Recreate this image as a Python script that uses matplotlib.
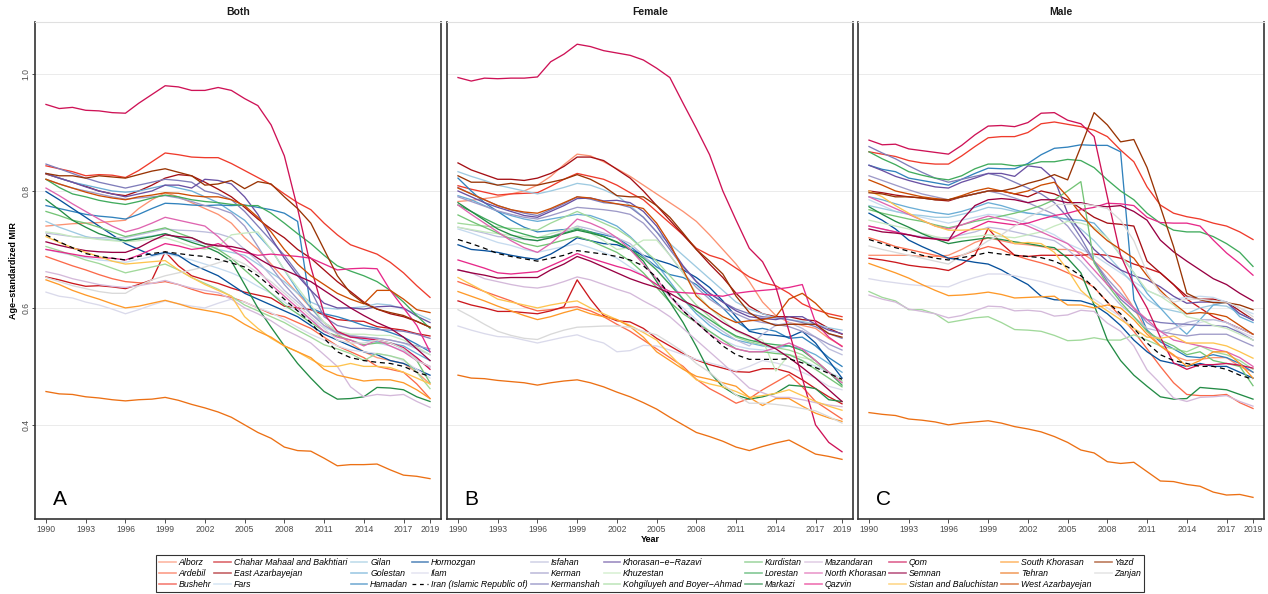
import matplotlib
matplotlib.use("Agg")
import matplotlib.pyplot as plt
from matplotlib.lines import Line2D
from matplotlib.font_manager import FontProperties

plt.rcParams["font.family"] = ["Liberation Sans", "DejaVu Sans"]

years = list(range(1990, 2020))
panels = ["Both", "Female", "Male"]
panel_letters = ["A", "B", "C"]
xticks = [1990, 1993, 1996, 1999, 2002, 2005, 2008, 2011, 2014, 2017, 2019]
yticks = [0.4, 0.6, 0.8, 1.0]
ytick_labels = ["0.4", "0.6", "0.8", "1.0"]

alborz = {
    "Both": [0.74, 0.742, 0.744, 0.745, 0.746, 0.748, 0.75, 0.77, 0.785, 0.797, 0.79, 0.78, 0.77, 0.76, 0.745, 0.72, 0.70, 0.675, 0.65, 0.625, 0.60, 0.575, 0.555, 0.54, 0.525, 0.515, 0.51, 0.505, 0.49, 0.47],
    "Female": [0.782, 0.784, 0.787, 0.79, 0.795, 0.80, 0.81, 0.825, 0.845, 0.863, 0.86, 0.85, 0.838, 0.825, 0.81, 0.795, 0.78, 0.765, 0.748, 0.725, 0.70, 0.675, 0.645, 0.61, 0.587, 0.575, 0.57, 0.565, 0.548, 0.535],
    "Male": [0.69, 0.69, 0.69, 0.69, 0.688, 0.688, 0.69, 0.70, 0.712, 0.72, 0.715, 0.71, 0.708, 0.705, 0.70, 0.70, 0.695, 0.68, 0.66, 0.635, 0.60, 0.56, 0.535, 0.518, 0.51, 0.512, 0.515, 0.515, 0.50, 0.49],
}
ardebil = {
    "Both": [0.688, 0.68, 0.672, 0.665, 0.657, 0.65, 0.645, 0.643, 0.642, 0.645, 0.64, 0.632, 0.625, 0.622, 0.618, 0.61, 0.60, 0.59, 0.585, 0.575, 0.565, 0.55, 0.535, 0.525, 0.515, 0.50, 0.495, 0.49, 0.47, 0.445],
    "Female": [0.645, 0.637, 0.628, 0.62, 0.612, 0.602, 0.595, 0.597, 0.60, 0.602, 0.595, 0.585, 0.572, 0.56, 0.545, 0.53, 0.515, 0.50, 0.478, 0.462, 0.45, 0.437, 0.445, 0.46, 0.473, 0.486, 0.465, 0.44, 0.425, 0.41],
    "Male": [0.72, 0.713, 0.705, 0.70, 0.695, 0.69, 0.685, 0.69, 0.698, 0.705, 0.70, 0.69, 0.683, 0.677, 0.67, 0.66, 0.65, 0.635, 0.61, 0.585, 0.56, 0.53, 0.50, 0.472, 0.452, 0.45, 0.45, 0.452, 0.438, 0.428],
}
bushehr = {
    "Both": [0.843, 0.838, 0.833, 0.826, 0.828, 0.827, 0.823, 0.835, 0.85, 0.865, 0.862, 0.858, 0.857, 0.857, 0.847, 0.835, 0.823, 0.811, 0.795, 0.78, 0.768, 0.745, 0.725, 0.708, 0.70, 0.692, 0.678, 0.66, 0.638, 0.618],
    "Female": [0.809, 0.803, 0.798, 0.793, 0.795, 0.796, 0.797, 0.808, 0.82, 0.83, 0.825, 0.82, 0.81, 0.797, 0.785, 0.765, 0.745, 0.725, 0.702, 0.69, 0.683, 0.668, 0.653, 0.643, 0.638, 0.625, 0.607, 0.597, 0.59, 0.585],
    "Male": [0.867, 0.863, 0.859, 0.852, 0.848, 0.846, 0.846, 0.86, 0.876, 0.891, 0.893, 0.893, 0.90, 0.915, 0.918, 0.914, 0.91, 0.904, 0.893, 0.87, 0.85, 0.807, 0.776, 0.762, 0.756, 0.752, 0.745, 0.74, 0.73, 0.717],
}
chahar = {
    "Both": [0.653, 0.648, 0.642, 0.637, 0.638, 0.636, 0.633, 0.64, 0.648, 0.696, 0.672, 0.655, 0.648, 0.642, 0.634, 0.627, 0.622, 0.617, 0.603, 0.60, 0.597, 0.588, 0.58, 0.578, 0.577, 0.568, 0.565, 0.562, 0.556, 0.552],
    "Female": [0.612, 0.605, 0.60, 0.594, 0.594, 0.592, 0.59, 0.595, 0.602, 0.648, 0.615, 0.587, 0.578, 0.576, 0.565, 0.548, 0.535, 0.522, 0.511, 0.503, 0.497, 0.491, 0.49, 0.496, 0.496, 0.49, 0.477, 0.462, 0.448, 0.436],
    "Male": [0.685, 0.682, 0.678, 0.673, 0.67, 0.668, 0.664, 0.675, 0.69, 0.736, 0.71, 0.69, 0.688, 0.69, 0.69, 0.69, 0.69, 0.692, 0.69, 0.685, 0.675, 0.668, 0.66, 0.64, 0.615, 0.60, 0.585, 0.575, 0.565, 0.555],
}
east_azarbayejan = {
    "Both": [0.829, 0.822, 0.815, 0.808, 0.80, 0.795, 0.792, 0.80, 0.81, 0.822, 0.828, 0.826, 0.815, 0.803, 0.79, 0.772, 0.752, 0.735, 0.72, 0.70, 0.685, 0.665, 0.645, 0.628, 0.61, 0.598, 0.59, 0.585, 0.577, 0.567],
    "Female": [0.848, 0.836, 0.828, 0.82, 0.82, 0.818, 0.822, 0.83, 0.842, 0.858, 0.858, 0.852, 0.837, 0.822, 0.80, 0.775, 0.75, 0.725, 0.70, 0.675, 0.652, 0.625, 0.603, 0.59, 0.585, 0.585, 0.58, 0.578, 0.565, 0.555],
    "Male": [0.80, 0.797, 0.793, 0.79, 0.788, 0.785, 0.783, 0.79, 0.795, 0.80, 0.80, 0.795, 0.79, 0.80, 0.795, 0.785, 0.77, 0.755, 0.745, 0.743, 0.74, 0.68, 0.66, 0.64, 0.62, 0.615, 0.615, 0.61, 0.595, 0.58],
}
fars = {
    "Both": [0.70, 0.695, 0.69, 0.686, 0.682, 0.68, 0.678, 0.683, 0.688, 0.693, 0.688, 0.682, 0.675, 0.668, 0.66, 0.65, 0.637, 0.625, 0.61, 0.595, 0.58, 0.567, 0.556, 0.55, 0.545, 0.54, 0.535, 0.527, 0.513, 0.498],
    "Female": [0.735, 0.728, 0.72, 0.712, 0.707, 0.70, 0.695, 0.70, 0.705, 0.71, 0.703, 0.695, 0.685, 0.67, 0.655, 0.64, 0.62, 0.60, 0.58, 0.56, 0.545, 0.535, 0.53, 0.528, 0.525, 0.52, 0.51, 0.50, 0.49, 0.48],
    "Male": [0.785, 0.775, 0.765, 0.76, 0.755, 0.75, 0.745, 0.75, 0.755, 0.76, 0.758, 0.752, 0.745, 0.735, 0.725, 0.71, 0.70, 0.69, 0.675, 0.66, 0.645, 0.63, 0.62, 0.615, 0.618, 0.62, 0.618, 0.61, 0.60, 0.59],
}
gilan = {
    "Both": [0.748, 0.738, 0.73, 0.722, 0.718, 0.716, 0.715, 0.72, 0.723, 0.727, 0.72, 0.715, 0.71, 0.70, 0.695, 0.69, 0.675, 0.66, 0.645, 0.625, 0.61, 0.60, 0.598, 0.60, 0.602, 0.607, 0.605, 0.598, 0.59, 0.58],
    "Female": [0.833, 0.825, 0.818, 0.81, 0.805, 0.80, 0.795, 0.80, 0.806, 0.813, 0.81, 0.802, 0.792, 0.775, 0.755, 0.73, 0.71, 0.69, 0.67, 0.65, 0.63, 0.61, 0.598, 0.59, 0.583, 0.58, 0.577, 0.572, 0.566, 0.562],
    "Male": [0.775, 0.77, 0.765, 0.76, 0.758, 0.755, 0.755, 0.76, 0.765, 0.772, 0.77, 0.765, 0.762, 0.76, 0.757, 0.75, 0.735, 0.715, 0.69, 0.665, 0.64, 0.615, 0.60, 0.595, 0.59, 0.60, 0.605, 0.603, 0.59, 0.58],
}
golestan = {
    "Both": [0.83, 0.822, 0.815, 0.81, 0.805, 0.80, 0.798, 0.80, 0.805, 0.81, 0.805, 0.80, 0.79, 0.78, 0.765, 0.75, 0.725, 0.70, 0.665, 0.63, 0.60, 0.575, 0.56, 0.552, 0.545, 0.542, 0.54, 0.535, 0.522, 0.51],
    "Female": [0.792, 0.785, 0.775, 0.765, 0.758, 0.752, 0.748, 0.752, 0.756, 0.76, 0.758, 0.75, 0.74, 0.722, 0.70, 0.675, 0.645, 0.615, 0.59, 0.57, 0.555, 0.545, 0.54, 0.535, 0.532, 0.535, 0.53, 0.52, 0.505, 0.49],
    "Male": [0.79, 0.785, 0.778, 0.772, 0.767, 0.763, 0.76, 0.765, 0.772, 0.78, 0.775, 0.768, 0.762, 0.76, 0.755, 0.752, 0.75, 0.745, 0.72, 0.69, 0.66, 0.625, 0.60, 0.575, 0.555, 0.58, 0.605, 0.61, 0.585, 0.575],
}
hamadan = {
    "Both": [0.775, 0.77, 0.765, 0.76, 0.757, 0.755, 0.752, 0.76, 0.77, 0.779, 0.778, 0.776, 0.775, 0.776, 0.775, 0.776, 0.772, 0.768, 0.762, 0.748, 0.60, 0.59, 0.585, 0.578, 0.57, 0.565, 0.558, 0.55, 0.538, 0.525],
    "Female": [0.822, 0.80, 0.78, 0.765, 0.75, 0.738, 0.73, 0.732, 0.734, 0.737, 0.73, 0.725, 0.72, 0.705, 0.688, 0.67, 0.657, 0.652, 0.64, 0.62, 0.60, 0.577, 0.562, 0.565, 0.56, 0.548, 0.55, 0.535, 0.515, 0.50],
    "Male": [0.844, 0.837, 0.833, 0.822, 0.818, 0.814, 0.81, 0.82, 0.83, 0.839, 0.838, 0.838, 0.847, 0.862, 0.873, 0.875, 0.879, 0.878, 0.878, 0.867, 0.614, 0.562, 0.542, 0.53, 0.517, 0.515, 0.52, 0.515, 0.505, 0.49],
}
hormozgan = {
    "Both": [0.799, 0.785, 0.77, 0.755, 0.74, 0.725, 0.71, 0.70, 0.69, 0.695, 0.69, 0.675, 0.665, 0.655, 0.64, 0.625, 0.615, 0.605, 0.595, 0.585, 0.57, 0.555, 0.545, 0.535, 0.525, 0.52, 0.51, 0.505, 0.495, 0.485],
    "Female": [0.708, 0.70, 0.698, 0.695, 0.69, 0.686, 0.683, 0.692, 0.705, 0.72, 0.715, 0.71, 0.708, 0.70, 0.69, 0.682, 0.675, 0.665, 0.652, 0.635, 0.612, 0.585, 0.56, 0.555, 0.553, 0.55, 0.56, 0.54, 0.51, 0.48],
    "Male": [0.762, 0.75, 0.735, 0.716, 0.705, 0.695, 0.685, 0.682, 0.678, 0.675, 0.665, 0.652, 0.64, 0.62, 0.614, 0.613, 0.612, 0.605, 0.59, 0.57, 0.545, 0.525, 0.51, 0.505, 0.50, 0.505, 0.50, 0.50, 0.49, 0.48],
}
ilam = {
    "Both": [0.627, 0.62, 0.617, 0.61, 0.605, 0.598, 0.59, 0.597, 0.605, 0.612, 0.607, 0.603, 0.60, 0.608, 0.615, 0.61, 0.60, 0.592, 0.58, 0.567, 0.555, 0.545, 0.535, 0.528, 0.525, 0.522, 0.518, 0.51, 0.495, 0.48],
    "Female": [0.569, 0.562, 0.556, 0.551, 0.55, 0.545, 0.54, 0.545, 0.55, 0.554, 0.546, 0.54, 0.525, 0.527, 0.536, 0.535, 0.528, 0.52, 0.512, 0.506, 0.50, 0.492, 0.50, 0.51, 0.506, 0.50, 0.49, 0.48, 0.466, 0.46],
    "Male": [0.65, 0.646, 0.643, 0.64, 0.638, 0.637, 0.636, 0.645, 0.652, 0.658, 0.658, 0.655, 0.65, 0.645, 0.638, 0.632, 0.625, 0.615, 0.60, 0.585, 0.565, 0.55, 0.55, 0.565, 0.57, 0.575, 0.58, 0.575, 0.56, 0.55],
}
iran = {
    "Both": [0.725, 0.713, 0.703, 0.693, 0.688, 0.685, 0.682, 0.688, 0.693, 0.696, 0.693, 0.69, 0.688, 0.683, 0.677, 0.67, 0.655, 0.636, 0.615, 0.595, 0.575, 0.548, 0.525, 0.515, 0.51, 0.507, 0.505, 0.50, 0.49, 0.483],
    "Female": [0.717, 0.71, 0.702, 0.693, 0.688, 0.684, 0.68, 0.685, 0.69, 0.698, 0.695, 0.692, 0.688, 0.682, 0.672, 0.652, 0.622, 0.595, 0.575, 0.555, 0.535, 0.52, 0.512, 0.512, 0.512, 0.513, 0.506, 0.498, 0.488, 0.478],
    "Male": [0.717, 0.71, 0.703, 0.697, 0.69, 0.685, 0.682, 0.686, 0.69, 0.695, 0.692, 0.69, 0.688, 0.686, 0.68, 0.67, 0.655, 0.635, 0.61, 0.59, 0.565, 0.54, 0.52, 0.51, 0.505, 0.50, 0.50, 0.495, 0.485, 0.478],
}
isfahan = {
    "Both": [0.728, 0.725, 0.722, 0.72, 0.72, 0.72, 0.72, 0.725, 0.73, 0.735, 0.733, 0.732, 0.73, 0.727, 0.72, 0.70, 0.68, 0.655, 0.63, 0.61, 0.59, 0.575, 0.56, 0.553, 0.55, 0.548, 0.545, 0.54, 0.53, 0.52],
    "Female": [0.738, 0.733, 0.728, 0.722, 0.72, 0.717, 0.715, 0.722, 0.73, 0.74, 0.735, 0.728, 0.72, 0.71, 0.69, 0.665, 0.64, 0.615, 0.595, 0.575, 0.56, 0.545, 0.535, 0.555, 0.57, 0.575, 0.565, 0.55, 0.53, 0.52],
    "Male": [0.74, 0.735, 0.73, 0.725, 0.722, 0.72, 0.72, 0.725, 0.73, 0.738, 0.735, 0.73, 0.725, 0.72, 0.715, 0.70, 0.68, 0.655, 0.63, 0.605, 0.585, 0.565, 0.56, 0.565, 0.575, 0.58, 0.58, 0.575, 0.565, 0.555],
}
kerman = {
    "Both": [0.82, 0.812, 0.805, 0.80, 0.795, 0.79, 0.786, 0.788, 0.79, 0.792, 0.788, 0.782, 0.775, 0.77, 0.762, 0.74, 0.705, 0.67, 0.64, 0.615, 0.59, 0.57, 0.557, 0.552, 0.55, 0.548, 0.545, 0.54, 0.535, 0.53],
    "Female": [0.79, 0.782, 0.774, 0.766, 0.76, 0.755, 0.752, 0.758, 0.765, 0.772, 0.77, 0.768, 0.765, 0.76, 0.745, 0.72, 0.69, 0.66, 0.635, 0.615, 0.60, 0.59, 0.58, 0.575, 0.572, 0.568, 0.56, 0.55, 0.538, 0.528],
    "Male": [0.826, 0.818, 0.81, 0.802, 0.795, 0.79, 0.785, 0.79, 0.795, 0.80, 0.795, 0.788, 0.78, 0.77, 0.76, 0.74, 0.71, 0.68, 0.65, 0.625, 0.60, 0.575, 0.56, 0.555, 0.552, 0.555, 0.555, 0.555, 0.545, 0.535],
}
kermanshah = {
    "Both": [0.846, 0.838, 0.83, 0.822, 0.815, 0.81, 0.805, 0.81, 0.815, 0.82, 0.818, 0.815, 0.80, 0.795, 0.785, 0.765, 0.74, 0.715, 0.69, 0.66, 0.63, 0.585, 0.57, 0.565, 0.565, 0.563, 0.562, 0.56, 0.555, 0.548],
    "Female": [0.806, 0.795, 0.785, 0.775, 0.768, 0.762, 0.758, 0.768, 0.778, 0.79, 0.786, 0.78, 0.778, 0.772, 0.755, 0.73, 0.70, 0.67, 0.645, 0.625, 0.61, 0.598, 0.59, 0.585, 0.583, 0.58, 0.575, 0.568, 0.556, 0.548],
    "Male": [0.876, 0.865, 0.855, 0.843, 0.832, 0.822, 0.815, 0.82, 0.825, 0.83, 0.825, 0.815, 0.805, 0.795, 0.78, 0.755, 0.72, 0.68, 0.645, 0.615, 0.595, 0.58, 0.575, 0.573, 0.572, 0.57, 0.57, 0.568, 0.558, 0.545],
}
khorasan_razavi = {
    "Both": [0.83, 0.822, 0.815, 0.807, 0.80, 0.795, 0.79, 0.795, 0.80, 0.81, 0.81, 0.805, 0.82, 0.818, 0.812, 0.79, 0.76, 0.72, 0.685, 0.655, 0.63, 0.608, 0.60, 0.60, 0.598, 0.602, 0.603, 0.60, 0.586, 0.575],
    "Female": [0.80, 0.79, 0.78, 0.772, 0.765, 0.758, 0.755, 0.765, 0.775, 0.787, 0.788, 0.783, 0.784, 0.78, 0.765, 0.74, 0.705, 0.672, 0.645, 0.625, 0.61, 0.595, 0.585, 0.582, 0.58, 0.585, 0.585, 0.572, 0.562, 0.556],
    "Male": [0.844, 0.835, 0.825, 0.818, 0.812, 0.807, 0.805, 0.815, 0.822, 0.83, 0.83, 0.825, 0.843, 0.84, 0.82, 0.762, 0.73, 0.70, 0.68, 0.665, 0.655, 0.648, 0.636, 0.62, 0.608, 0.61, 0.61, 0.61, 0.59, 0.579],
}
khuzestan = {
    "Both": [0.73, 0.727, 0.722, 0.72, 0.717, 0.715, 0.713, 0.715, 0.718, 0.72, 0.713, 0.705, 0.70, 0.705, 0.725, 0.728, 0.73, 0.70, 0.665, 0.635, 0.605, 0.575, 0.56, 0.555, 0.555, 0.553, 0.553, 0.545, 0.533, 0.52],
    "Female": [0.738, 0.734, 0.73, 0.727, 0.724, 0.722, 0.72, 0.727, 0.733, 0.738, 0.728, 0.715, 0.70, 0.703, 0.716, 0.716, 0.69, 0.66, 0.625, 0.60, 0.58, 0.56, 0.55, 0.545, 0.492, 0.52, 0.515, 0.51, 0.49, 0.472],
    "Male": [0.75, 0.745, 0.74, 0.735, 0.728, 0.722, 0.718, 0.72, 0.722, 0.725, 0.722, 0.72, 0.725, 0.73, 0.74, 0.748, 0.745, 0.738, 0.72, 0.69, 0.66, 0.63, 0.62, 0.605, 0.585, 0.58, 0.57, 0.565, 0.555, 0.545],
}
kohgiluyeh = {
    "Both": [0.705, 0.698, 0.69, 0.682, 0.676, 0.668, 0.66, 0.665, 0.67, 0.675, 0.665, 0.652, 0.642, 0.632, 0.62, 0.605, 0.595, 0.585, 0.575, 0.562, 0.55, 0.537, 0.53, 0.522, 0.51, 0.522, 0.518, 0.512, 0.49, 0.462],
    "Female": [0.745, 0.742, 0.74, 0.738, 0.736, 0.735, 0.733, 0.745, 0.755, 0.765, 0.755, 0.745, 0.735, 0.72, 0.70, 0.68, 0.655, 0.63, 0.605, 0.585, 0.565, 0.55, 0.542, 0.537, 0.532, 0.528, 0.52, 0.505, 0.49, 0.475],
    "Male": [0.628, 0.618, 0.612, 0.597, 0.597, 0.59, 0.575, 0.579, 0.583, 0.585, 0.575, 0.563, 0.562, 0.56, 0.553, 0.544, 0.545, 0.549, 0.545, 0.545, 0.554, 0.545, 0.535, 0.53, 0.525, 0.535, 0.525, 0.52, 0.51, 0.495],
}
kurdistan = {
    "Both": [0.765, 0.758, 0.75, 0.745, 0.738, 0.73, 0.722, 0.727, 0.732, 0.737, 0.728, 0.72, 0.71, 0.70, 0.685, 0.665, 0.645, 0.625, 0.605, 0.59, 0.575, 0.56, 0.552, 0.545, 0.537, 0.54, 0.54, 0.53, 0.51, 0.472],
    "Female": [0.759, 0.748, 0.738, 0.728, 0.718, 0.71, 0.705, 0.71, 0.716, 0.722, 0.715, 0.705, 0.695, 0.68, 0.66, 0.635, 0.61, 0.59, 0.575, 0.56, 0.545, 0.53, 0.525, 0.525, 0.522, 0.52, 0.51, 0.495, 0.48, 0.465],
    "Male": [0.768, 0.762, 0.757, 0.752, 0.748, 0.742, 0.737, 0.742, 0.748, 0.752, 0.757, 0.762, 0.768, 0.775, 0.785, 0.80, 0.816, 0.677, 0.64, 0.61, 0.585, 0.56, 0.545, 0.535, 0.52, 0.525, 0.51, 0.505, 0.50, 0.467],
}
lorestan = {
    "Both": [0.82, 0.806, 0.795, 0.79, 0.784, 0.78, 0.777, 0.782, 0.788, 0.793, 0.79, 0.785, 0.782, 0.78, 0.777, 0.775, 0.775, 0.762, 0.745, 0.727, 0.71, 0.69, 0.672, 0.663, 0.655, 0.645, 0.63, 0.61, 0.587, 0.565],
    "Female": [0.776, 0.765, 0.753, 0.742, 0.733, 0.726, 0.72, 0.722, 0.728, 0.735, 0.73, 0.722, 0.712, 0.70, 0.685, 0.665, 0.64, 0.615, 0.595, 0.58, 0.565, 0.552, 0.545, 0.54, 0.537, 0.535, 0.527, 0.51, 0.49, 0.468],
    "Male": [0.867, 0.855, 0.845, 0.833, 0.827, 0.822, 0.819, 0.826, 0.838, 0.846, 0.846, 0.843, 0.845, 0.85, 0.85, 0.854, 0.852, 0.84, 0.819, 0.80, 0.785, 0.762, 0.745, 0.733, 0.73, 0.73, 0.722, 0.71, 0.695, 0.671],
}
markazi = {
    "Both": [0.785, 0.768, 0.75, 0.738, 0.727, 0.72, 0.715, 0.718, 0.722, 0.727, 0.72, 0.712, 0.705, 0.695, 0.68, 0.64, 0.60, 0.567, 0.535, 0.505, 0.48, 0.457, 0.444, 0.445, 0.448, 0.464, 0.463, 0.46, 0.448, 0.44],
    "Female": [0.78, 0.765, 0.75, 0.735, 0.725, 0.718, 0.715, 0.72, 0.727, 0.733, 0.728, 0.722, 0.713, 0.70, 0.68, 0.645, 0.61, 0.575, 0.534, 0.49, 0.465, 0.451, 0.444, 0.448, 0.454, 0.468, 0.466, 0.462, 0.443, 0.44],
    "Male": [0.773, 0.76, 0.748, 0.738, 0.727, 0.718, 0.71, 0.714, 0.717, 0.72, 0.717, 0.713, 0.71, 0.706, 0.703, 0.685, 0.66, 0.605, 0.545, 0.51, 0.485, 0.466, 0.448, 0.444, 0.445, 0.464, 0.462, 0.46, 0.452, 0.444],
}
mazandaran = {
    "Both": [0.662, 0.657, 0.65, 0.645, 0.64, 0.637, 0.635, 0.638, 0.642, 0.647, 0.64, 0.634, 0.63, 0.626, 0.615, 0.60, 0.59, 0.578, 0.563, 0.552, 0.54, 0.52, 0.50, 0.465, 0.448, 0.452, 0.45, 0.452, 0.44, 0.43],
    "Female": [0.665, 0.66, 0.65, 0.645, 0.64, 0.636, 0.634, 0.638, 0.645, 0.653, 0.648, 0.64, 0.632, 0.625, 0.612, 0.60, 0.585, 0.565, 0.545, 0.525, 0.505, 0.484, 0.463, 0.455, 0.447, 0.447, 0.443, 0.438, 0.434, 0.431],
    "Male": [0.622, 0.615, 0.61, 0.598, 0.594, 0.59, 0.583, 0.587, 0.595, 0.603, 0.602, 0.595, 0.596, 0.594, 0.586, 0.588, 0.596, 0.594, 0.574, 0.56, 0.535, 0.494, 0.471, 0.446, 0.44, 0.447, 0.448, 0.45, 0.44, 0.432],
}
north_khorasan = {
    "Both": [0.805, 0.792, 0.778, 0.765, 0.752, 0.74, 0.73, 0.736, 0.745, 0.755, 0.75, 0.745, 0.74, 0.722, 0.70, 0.685, 0.665, 0.64, 0.62, 0.60, 0.58, 0.56, 0.55, 0.545, 0.535, 0.545, 0.535, 0.525, 0.51, 0.50],
    "Female": [0.776, 0.76, 0.745, 0.73, 0.715, 0.703, 0.695, 0.71, 0.73, 0.752, 0.745, 0.735, 0.72, 0.70, 0.675, 0.65, 0.62, 0.595, 0.575, 0.555, 0.54, 0.53, 0.525, 0.525, 0.532, 0.54, 0.53, 0.51, 0.49, 0.472],
    "Male": [0.79, 0.78, 0.77, 0.76, 0.75, 0.74, 0.735, 0.742, 0.75, 0.757, 0.752, 0.748, 0.74, 0.73, 0.72, 0.71, 0.69, 0.665, 0.64, 0.62, 0.60, 0.58, 0.56, 0.545, 0.54, 0.535, 0.53, 0.525, 0.515, 0.50],
}
qazvin = {
    "Both": [0.70, 0.696, 0.692, 0.688, 0.686, 0.685, 0.682, 0.69, 0.70, 0.71, 0.706, 0.70, 0.703, 0.71, 0.70, 0.695, 0.69, 0.692, 0.69, 0.688, 0.685, 0.675, 0.665, 0.667, 0.668, 0.667, 0.63, 0.60, 0.57, 0.525],
    "Female": [0.682, 0.675, 0.668, 0.66, 0.658, 0.66, 0.662, 0.672, 0.682, 0.693, 0.685, 0.678, 0.671, 0.665, 0.655, 0.64, 0.628, 0.626, 0.625, 0.622, 0.62, 0.625, 0.628, 0.63, 0.632, 0.635, 0.64, 0.575, 0.55, 0.534],
    "Male": [0.74, 0.735, 0.73, 0.725, 0.72, 0.718, 0.716, 0.728, 0.738, 0.748, 0.745, 0.742, 0.745, 0.752, 0.758, 0.762, 0.768, 0.772, 0.779, 0.778, 0.775, 0.755, 0.746, 0.745, 0.745, 0.74, 0.716, 0.694, 0.676, 0.656],
}
qom = {
    "Both": [0.948, 0.941, 0.943, 0.938, 0.937, 0.934, 0.933, 0.95, 0.965, 0.98, 0.978, 0.972, 0.972, 0.977, 0.972, 0.958, 0.946, 0.913, 0.86, 0.77, 0.67, 0.59, 0.56, 0.55, 0.548, 0.545, 0.54, 0.532, 0.515, 0.495],
    "Female": [0.994, 0.988, 0.993, 0.992, 0.993, 0.993, 0.995, 1.021, 1.034, 1.051, 1.047, 1.04, 1.036, 1.032, 1.024, 1.01, 0.994, 0.95, 0.907, 0.862, 0.80, 0.75, 0.702, 0.679, 0.636, 0.56, 0.48, 0.40, 0.37, 0.354],
    "Male": [0.887, 0.879, 0.88, 0.872, 0.869, 0.866, 0.863, 0.878, 0.896, 0.911, 0.912, 0.91, 0.917, 0.933, 0.934, 0.921, 0.915, 0.893, 0.79, 0.69, 0.64, 0.60, 0.55, 0.506, 0.495, 0.503, 0.503, 0.505, 0.502, 0.497],
}
semnan = {
    "Both": [0.713, 0.707, 0.702, 0.698, 0.696, 0.695, 0.695, 0.703, 0.715, 0.725, 0.722, 0.72, 0.71, 0.706, 0.705, 0.70, 0.685, 0.672, 0.665, 0.655, 0.645, 0.63, 0.615, 0.60, 0.587, 0.575, 0.565, 0.55, 0.53, 0.51],
    "Female": [0.665, 0.66, 0.656, 0.651, 0.652, 0.652, 0.652, 0.665, 0.675, 0.688, 0.68, 0.67, 0.66, 0.65, 0.642, 0.635, 0.625, 0.612, 0.602, 0.59, 0.575, 0.562, 0.552, 0.54, 0.53, 0.515, 0.498, 0.48, 0.46, 0.44],
    "Male": [0.735, 0.73, 0.728, 0.725, 0.72, 0.718, 0.715, 0.75, 0.775, 0.785, 0.787, 0.785, 0.78, 0.785, 0.785, 0.78, 0.78, 0.775, 0.773, 0.775, 0.765, 0.75, 0.716, 0.696, 0.68, 0.665, 0.65, 0.64, 0.625, 0.612],
}
sistan = {
    "Both": [0.722, 0.712, 0.703, 0.695, 0.688, 0.68, 0.675, 0.677, 0.679, 0.681, 0.665, 0.652, 0.64, 0.63, 0.62, 0.585, 0.565, 0.548, 0.535, 0.525, 0.512, 0.50, 0.50, 0.505, 0.50, 0.50, 0.498, 0.49, 0.48, 0.47],
    "Female": [0.652, 0.64, 0.628, 0.615, 0.61, 0.605, 0.60, 0.605, 0.609, 0.612, 0.60, 0.59, 0.58, 0.57, 0.558, 0.545, 0.52, 0.497, 0.477, 0.47, 0.465, 0.457, 0.447, 0.45, 0.454, 0.46, 0.45, 0.44, 0.432, 0.425],
    "Male": [0.80, 0.79, 0.775, 0.762, 0.75, 0.74, 0.733, 0.733, 0.734, 0.735, 0.725, 0.71, 0.712, 0.71, 0.695, 0.665, 0.63, 0.61, 0.595, 0.58, 0.565, 0.55, 0.548, 0.552, 0.54, 0.54, 0.54, 0.535, 0.525, 0.514],
}
south_khorasan = {
    "Both": [0.648, 0.64, 0.63, 0.622, 0.615, 0.607, 0.60, 0.603, 0.608, 0.613, 0.607, 0.60, 0.596, 0.592, 0.586, 0.572, 0.56, 0.55, 0.535, 0.525, 0.515, 0.495, 0.485, 0.48, 0.475, 0.477, 0.477, 0.472, 0.46, 0.445],
    "Female": [0.628, 0.62, 0.612, 0.603, 0.595, 0.587, 0.58, 0.585, 0.592, 0.598, 0.59, 0.585, 0.58, 0.568, 0.55, 0.525, 0.51, 0.495, 0.483, 0.478, 0.472, 0.466, 0.447, 0.433, 0.445, 0.445, 0.432, 0.42, 0.412, 0.406],
    "Male": [0.676, 0.668, 0.66, 0.651, 0.64, 0.63, 0.621, 0.622, 0.624, 0.627, 0.623, 0.617, 0.618, 0.619, 0.62, 0.605, 0.605, 0.60, 0.605, 0.60, 0.58, 0.555, 0.535, 0.52, 0.50, 0.51, 0.525, 0.525, 0.505, 0.48],
}
tehran = {
    "Both": [0.457, 0.453, 0.452, 0.448, 0.446, 0.443, 0.441, 0.443, 0.444, 0.447, 0.442, 0.435, 0.429, 0.422, 0.413, 0.40, 0.387, 0.377, 0.362, 0.356, 0.355, 0.343, 0.33, 0.332, 0.332, 0.333, 0.323, 0.314, 0.312, 0.308],
    "Female": [0.485, 0.48, 0.479, 0.476, 0.474, 0.472, 0.468, 0.472, 0.475, 0.477, 0.472, 0.465, 0.456, 0.448, 0.438, 0.427, 0.413, 0.40, 0.387, 0.38, 0.372, 0.362, 0.356, 0.363, 0.369, 0.374, 0.362, 0.35, 0.346, 0.341],
    "Male": [0.421, 0.418, 0.416, 0.41, 0.408, 0.405, 0.40, 0.403, 0.405, 0.407, 0.403, 0.397, 0.393, 0.388, 0.38, 0.37, 0.357, 0.352, 0.337, 0.334, 0.336, 0.32, 0.304, 0.303, 0.298, 0.295, 0.285, 0.28, 0.281, 0.276],
}
west_azarbayejan = {
    "Both": [0.82, 0.812, 0.805, 0.798, 0.792, 0.788, 0.785, 0.79, 0.793, 0.797, 0.796, 0.792, 0.79, 0.79, 0.785, 0.775, 0.755, 0.73, 0.70, 0.675, 0.655, 0.64, 0.625, 0.615, 0.607, 0.63, 0.63, 0.615, 0.597, 0.592],
    "Female": [0.805, 0.795, 0.785, 0.775, 0.768, 0.764, 0.762, 0.77, 0.78, 0.79, 0.788, 0.782, 0.778, 0.775, 0.77, 0.745, 0.71, 0.665, 0.62, 0.60, 0.585, 0.575, 0.578, 0.58, 0.585, 0.615, 0.625, 0.608, 0.585, 0.58],
    "Male": [0.819, 0.81, 0.80, 0.795, 0.79, 0.787, 0.785, 0.792, 0.80, 0.805, 0.80, 0.795, 0.80, 0.81, 0.815, 0.79, 0.76, 0.735, 0.715, 0.70, 0.685, 0.655, 0.63, 0.608, 0.59, 0.592, 0.59, 0.585, 0.57, 0.555],
}
yazd = {
    "Both": [0.83, 0.826, 0.826, 0.822, 0.826, 0.824, 0.822, 0.828, 0.834, 0.838, 0.832, 0.826, 0.81, 0.812, 0.818, 0.804, 0.816, 0.812, 0.79, 0.77, 0.745, 0.70, 0.655, 0.625, 0.608, 0.598, 0.592, 0.587, 0.577, 0.567],
    "Female": [0.826, 0.815, 0.815, 0.81, 0.813, 0.81, 0.81, 0.815, 0.82, 0.828, 0.82, 0.808, 0.792, 0.79, 0.79, 0.775, 0.755, 0.728, 0.70, 0.68, 0.658, 0.62, 0.592, 0.578, 0.57, 0.572, 0.572, 0.572, 0.556, 0.55],
    "Male": [0.797, 0.795, 0.79, 0.79, 0.788, 0.785, 0.785, 0.79, 0.795, 0.80, 0.80, 0.805, 0.813, 0.819, 0.828, 0.819, 0.876, 0.934, 0.913, 0.884, 0.888, 0.84, 0.773, 0.705, 0.625, 0.614, 0.609, 0.609, 0.605, 0.597],
}
zanjan = {
    "Both": [0.652, 0.645, 0.638, 0.633, 0.628, 0.625, 0.625, 0.638, 0.648, 0.655, 0.66, 0.665, 0.67, 0.677, 0.685, 0.675, 0.66, 0.645, 0.625, 0.605, 0.585, 0.565, 0.545, 0.54, 0.54, 0.545, 0.54, 0.53, 0.51, 0.50],
    "Female": [0.597, 0.585, 0.572, 0.56, 0.553, 0.548, 0.546, 0.555, 0.562, 0.567, 0.568, 0.569, 0.569, 0.567, 0.56, 0.554, 0.54, 0.525, 0.505, 0.49, 0.47, 0.451, 0.437, 0.437, 0.435, 0.432, 0.428, 0.424, 0.414, 0.403],
    "Male": [0.706, 0.70, 0.695, 0.69, 0.685, 0.68, 0.675, 0.69, 0.70, 0.715, 0.725, 0.74, 0.755, 0.765, 0.777, 0.777, 0.778, 0.775, 0.77, 0.75, 0.715, 0.66, 0.625, 0.61, 0.615, 0.615, 0.612, 0.61, 0.60, 0.585],
}

province_names = [
    "Alborz", "Ardebil", "Bushehr", "Chahar Mahaal and Bakhtiari", "East Azarbayejan",
    "Fars", "Gilan", "Golestan", "Hamadan", "Hormozgan", "Ilam",
    "Iran (Islamic Republic of)", "Isfahan", "Kerman", "Kermanshah", "Khorasan\u2212e\u2212Razavi",
    "Khuzestan", "Kohgiluyeh and Boyer\u2212Ahmad", "Kurdistan", "Lorestan", "Markazi",
    "Mazandaran", "North Khorasan", "Qazvin", "Qom", "Semnan", "Sistan and Baluchistan",
    "South Khorasan", "Tehran", "West Azarbayejan", "Yazd", "Zanjan",
]
province_data = [
    alborz, ardebil, bushehr, chahar, east_azarbayejan, fars, gilan, golestan, hamadan,
    hormozgan, ilam, iran, isfahan, kerman, kermanshah, khorasan_razavi, khuzestan,
    kohgiluyeh, kurdistan, lorestan, markazi, mazandaran, north_khorasan, qazvin, qom,
    semnan, sistan, south_khorasan, tehran, west_azarbayejan, yazd, zanjan,
]
colors = [
    "#FC9272", "#FB6A4A", "#EF3B2C", "#CB181D", "#A50F15",
    "#C6DBEF", "#9ECAE1", "#6BAED6", "#3182BD", "#08519C", "#DADAEB",
    "#000000", "#BCBDDC", "#9E9AC8", "#807DBA", "#6A51A3",
    "#C7E9C0", "#A1D99B", "#74C476", "#41AB5D", "#238B45",
    "#D4B9DA", "#DF65B0", "#E7298A", "#CE1256", "#980043", "#FEC44F",
    "#FE9929", "#EC7014", "#CC4C02", "#993404", "#D9D9D9",
]

W, H = 1268, 594
fig = plt.figure(figsize=(W / 100, H / 100), dpi=100)
lefts = [35, 447, 858]
pw = 406
top_px, bot_px = 22, 519

for i, panel in enumerate(panels):
    ax = fig.add_axes([lefts[i] / W, 1 - bot_px / H, pw / W, (bot_px - top_px) / H])
    ax.set_xlim(1989.17, 2019.83)
    ax.set_ylim(0.239, 1.089)
    for y in yticks:
        ax.axhline(y, color="#EBEBEB", lw=0.7, zorder=0)
    for name, data, col in zip(province_names, province_data, colors):
        if name.startswith("Iran"):
            ax.plot(years, data[panel], color="black", lw=0.9, ls=(0, (4, 3)), zorder=3)
        else:
            ax.plot(years, data[panel], color=col, lw=0.95, zorder=2)
    ax.set_xticks(xticks)
    ax.set_xticklabels([str(x) for x in xticks], fontsize=6.2, color="#4D4D4D")
    ax.tick_params(axis="x", length=3, width=0.6, color="#333333", pad=1.5)
    ax.set_yticks(yticks)
    if i == 0:
        ax.set_yticklabels(ytick_labels, fontsize=6.2, color="#4D4D4D", rotation=90, va="center")
        ax.tick_params(axis="y", length=2, width=0.6, color="#333333", pad=1.5)
    else:
        ax.set_yticklabels([])
        ax.tick_params(axis="y", length=0)
    for s in ["left", "right", "bottom"]:
        ax.spines[s].set_color("#333333")
        ax.spines[s].set_linewidth(1.2)
    ax.spines["top"].set_color("#E0E0E0")
    ax.spines["top"].set_linewidth(0.8)
    ax.text(1990.5, 0.272, panel_letters[i], fontsize=15, ha="left", va="center", color="black")
    fig.text((lefts[i] + pw / 2) / W, 1 - 12 / H, panel, fontsize=7.5, fontweight="bold",
             ha="center", va="center", color="#1A1A1A")

fig.text(14 / W, 1 - 270.5 / H, "Age\u2212standardized MIR", rotation=90, fontsize=6.5,
         fontweight="bold", ha="center", va="center")
fig.text(650 / W, 1 - 539 / H, "Year", fontsize=6.5, fontweight="bold", ha="center", va="center")

handles = []
for name, col in zip(province_names, colors):
    if name.startswith("Iran"):
        handles.append(Line2D([], [], color="black", lw=0.9, ls=(0, (3, 3))))
    else:
        handles.append(Line2D([], [], color=col, lw=1.2, alpha=0.65))
leg = fig.legend(handles, province_names, ncol=11, loc="center",
                 bbox_to_anchor=(650 / W, 1 - 573.5 / H),
                 prop=FontProperties(family="Liberation Sans", style="italic", size=6.35),
                 frameon=True, fancybox=False, edgecolor="black",
                 handlelength=1.9, handletextpad=0.3, columnspacing=0.4,
                 labelspacing=0.2, borderpad=0.35)
leg.get_frame().set_linewidth(0.8)

fig.savefig("out.png", dpi=100)
